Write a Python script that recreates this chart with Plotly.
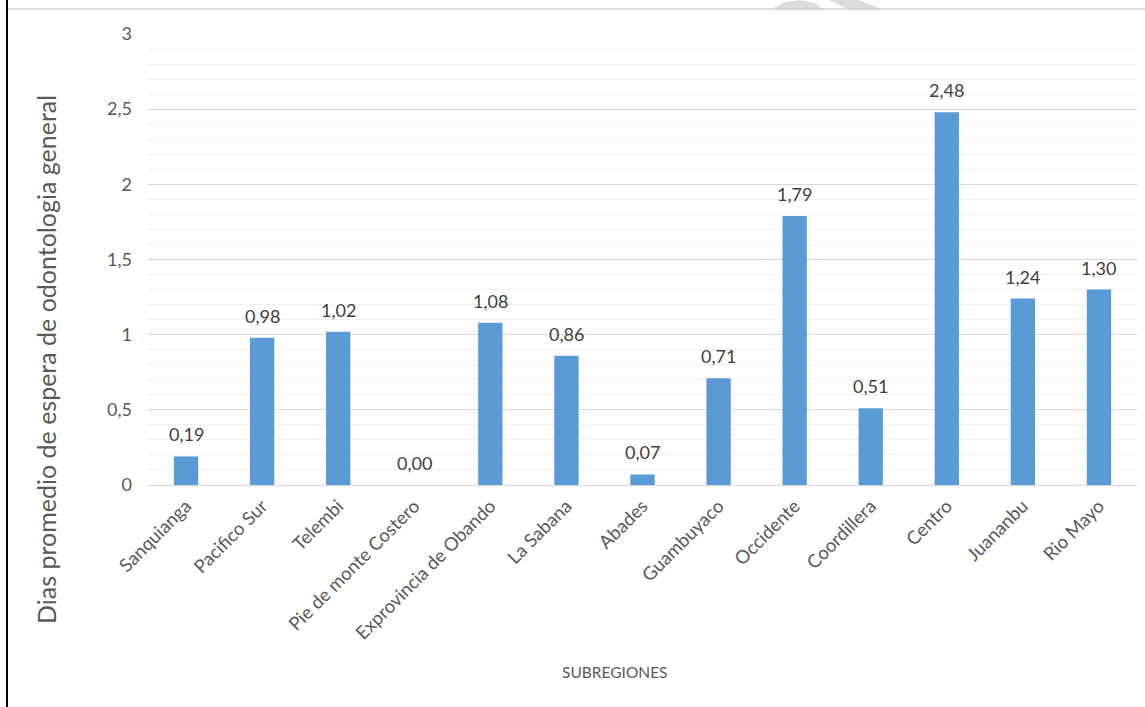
import plotly.graph_objects as go

categories = ["Sanquianga", "Pacifico Sur", "Telembi", "Pie de monte Costero",
              "Exprovincia de Obando", "La Sabana", "Abades", "Guambuyaco",
              "Occidente", "Coordillera", "Centro", "Juananbu", "Rio Mayo"]
values = [0.19, 0.98, 1.02, 0.00, 1.08, 0.86, 0.07, 0.71, 1.79, 0.51, 2.48, 1.24, 1.30]
y_ticks = [0, 0.5, 1, 1.5, 2, 2.5, 3]

W, H = 1145, 707
L, R, T, B = 148, 8, 34, 222
pw, ph = W - L - R, H - T - B

def px(x):
    return (x - L) / pw

def py(y):
    return (H - B - y) / ph

FONT = "Lato"
fig = go.Figure(go.Bar(
    x=categories, y=values,
    marker=dict(color="#5B9BD5", line=dict(width=0)),
    width=0.32, hoverinfo="x+y",
))

# value labels above bars
for c, v in zip(categories, values):
    fig.add_annotation(
        x=c, y=v, xref="x", yref="y",
        text=f"{v:.2f}".replace(".", ","),
        showarrow=False, yanchor="bottom", xanchor="center", yshift=9,
        font=dict(family=FONT, size=18, color="#404040"),
    )

fig.update_layout(
    width=W, height=H, separators=",.",
    margin=dict(l=L, r=R, t=T, b=B, autoexpand=False),
    paper_bgcolor="white", plot_bgcolor="white",
    showlegend=False,
    font=dict(family=FONT, color="#595959"),
)
fig.update_xaxes(
    tickangle=-45, tickfont=dict(family=FONT, size=18.5, color="#595959"),
    showline=True, linecolor="#d9d9d9", linewidth=1,
    showgrid=False, ticks="", ticklabelstandoff=2,
)
fig.update_yaxes(
    range=[0, 3], tickvals=y_ticks,
    tickfont=dict(family=FONT, size=18, color="#595959"),
    showgrid=True, gridcolor="#d9d9d9", gridwidth=1,
    minor=dict(dtick=0.1, showgrid=True, gridcolor="#efefef", gridwidth=1),
    zeroline=False, ticklabelstandoff=15,
)

# axis titles
fig.add_annotation(
    text="Dias promedio de espera de odontologia general",
    xref="paper", yref="paper", x=px(46), y=py(360),
    xanchor="center", yanchor="middle",
    textangle=-90, showarrow=False,
    font=dict(family=FONT, size=25, color="#595959"),
)
fig.add_annotation(
    text="SUBREGIONES", xref="paper", yref="paper",
    x=px(615), y=py(672), xanchor="center", yanchor="middle", showarrow=False,
    font=dict(family=FONT, size=15.5, color="#595959"),
)

# frame lines
fig.add_shape(type="line", xref="paper", yref="paper",
              x0=px(6), x1=px(W), y0=py(9), y1=py(9),
              line=dict(color="#d0d0d0", width=1.5))
fig.add_shape(type="line", xref="paper", yref="paper",
              x0=px(7), x1=px(7), y0=py(0), y1=py(H),
              line=dict(color="black", width=2))

# faint watermark fragment at the top
def pth(points):
    return "M " + " L ".join(f"{px(a)},{py(b)}" for a, b in points) + " Z"

fig.add_shape(type="path", xref="paper", yref="paper",
              path=pth([(772, 9), (785, 2), (800, 0), (815, 3), (822, 9)]),
              fillcolor="#dcdcdc", line=dict(width=0), layer="below")
fig.add_shape(type="path", xref="paper", yref="paper",
              path=pth([(828, 0), (858, 0), (882, 9), (848, 9)]),
              fillcolor="#dcdcdc", line=dict(width=0), layer="below")

fig.write_html("out.html", config={"displayModeBar": False},
               post_script="document.body.style.margin='0';document.body.style.overflow='hidden';")
